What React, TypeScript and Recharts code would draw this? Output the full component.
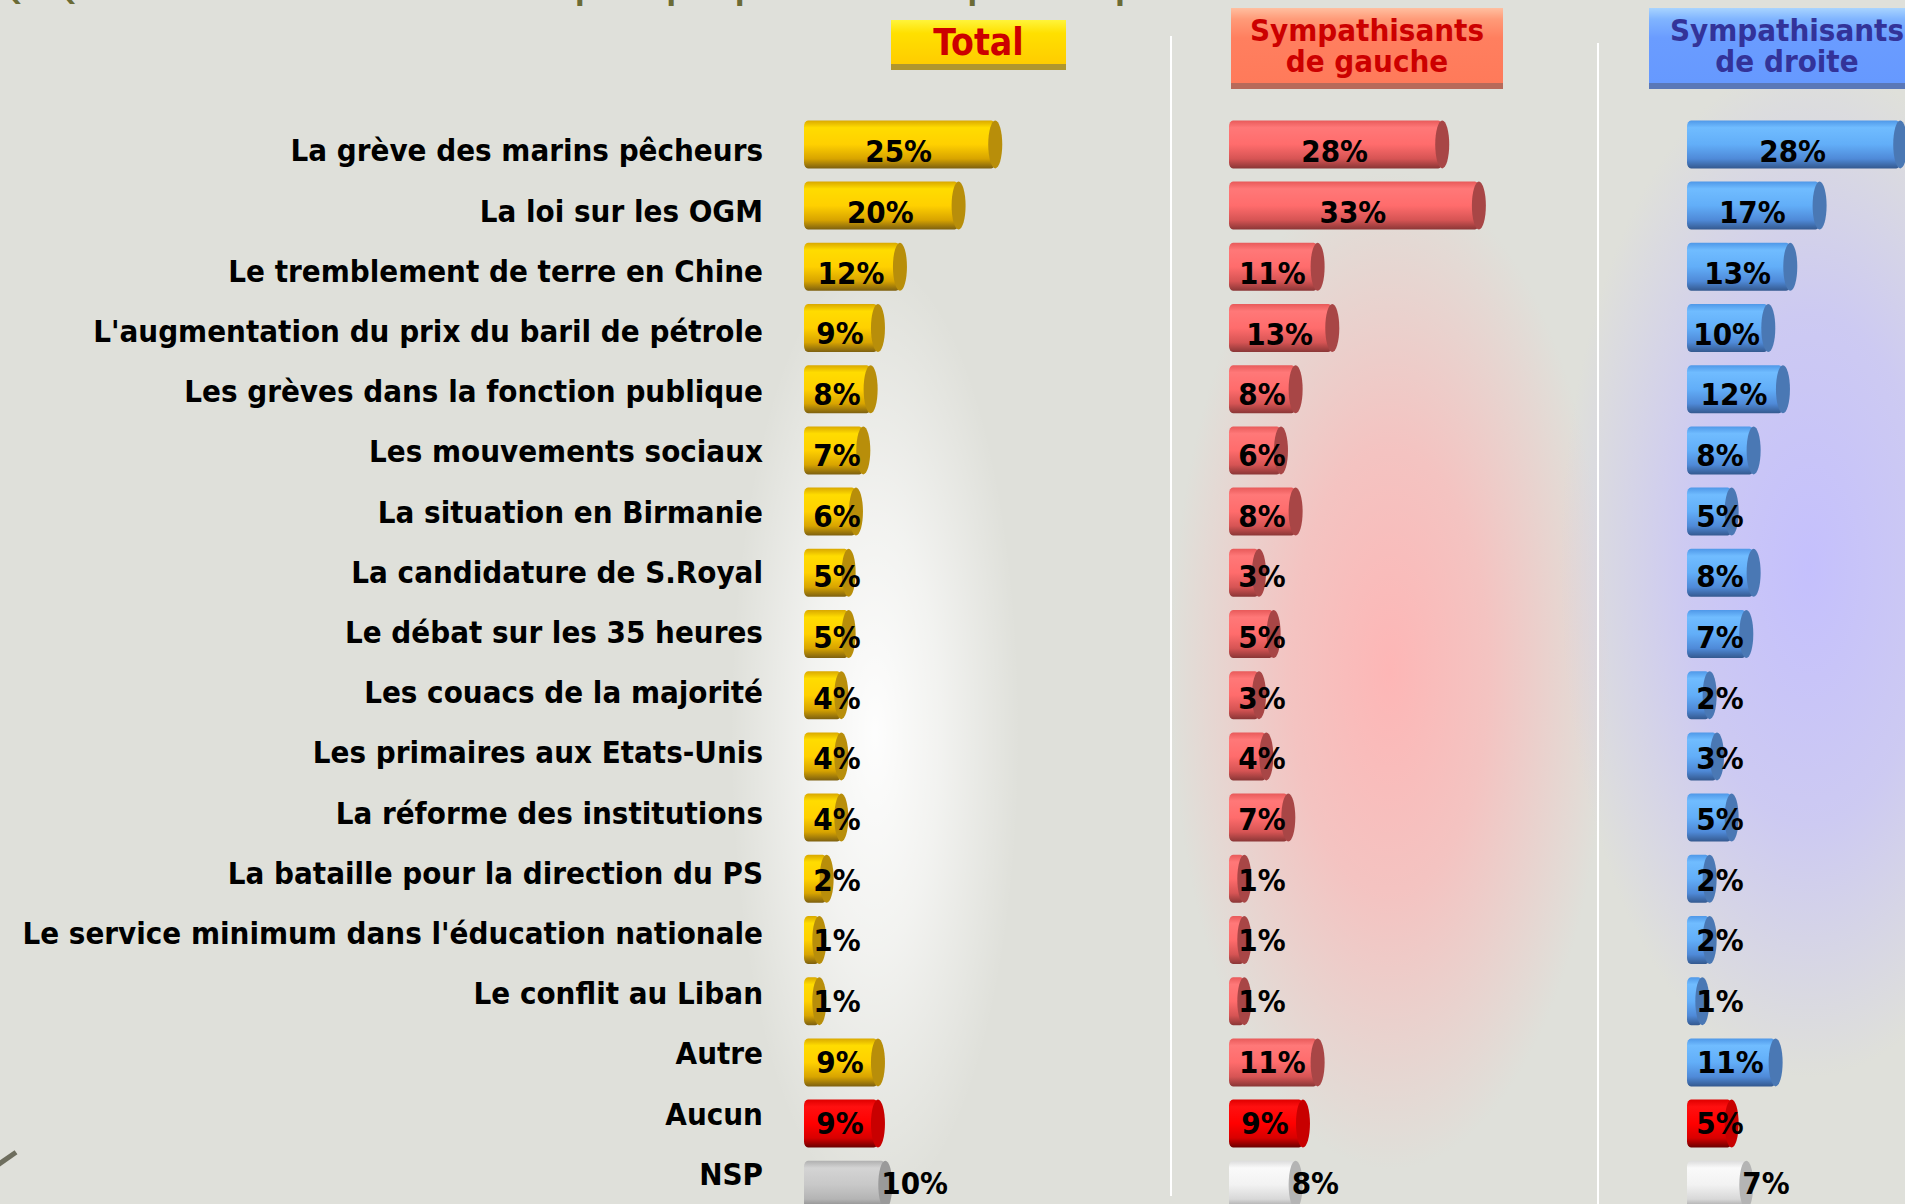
import React from 'react';
import { BarChart, Bar, XAxis, YAxis, LabelList } from 'recharts';

const categories = [
  'La grève des marins pêcheurs',
  'La loi sur les OGM',
  'Le tremblement de terre en Chine',
  "L'augmentation du prix du baril de pétrole",
  'Les grèves dans la fonction publique',
  'Les mouvements sociaux',
  'La situation en Birmanie',
  'La candidature de S.Royal',
  'Le débat sur les 35 heures',
  'Les couacs de la majorité',
  'Les primaires aux Etats-Unis',
  'La réforme des institutions',
  'La bataille pour la direction du PS',
  "Le service minimum dans l'éducation nationale",
  'Le conflit au Liban',
  'Autre',
  'Aucun',
  'NSP',
];

const totalValues = [25, 20, 12, 9, 8, 7, 6, 5, 5, 4, 4, 4, 2, 1, 1, 9, 9, 10];
const gaucheValues = [28, 33, 11, 13, 8, 6, 8, 3, 5, 3, 4, 7, 1, 1, 1, 11, 9, 8];
const droiteValues = [28, 17, 13, 10, 12, 8, 5, 8, 7, 2, 3, 5, 2, 2, 1, 11, 5, 7];

const columnTitles = ['Total', 'Sympathisants\nde gauche', 'Sympathisants\nde droite'];
const questionText =
  'Q : Quels sont les événements de la politique qui vous ont le plus marqué cette semaine ?';

const data = categories.map((label, i) => ({
  label,
  total: totalValues[i],
  gauche: gaucheValues[i],
  droite: droiteValues[i],
}));

const FONT = "'DejaVu Sans Condensed', 'DejaVu Sans', sans-serif";

type Palette = { top: string; light: string; main: string; low: string; bottom: string; cap: string };

const palettes: Record<string, Palette> = {
  yellow: { top: '#d9a800', light: '#ffdc00', main: '#ffd000', low: '#d8a400', bottom: '#7d6010', cap: '#b88e0a' },
  pink: { top: '#e85a5a', light: '#ff7878', main: '#ff6c6c', low: '#d65454', bottom: '#8a3636', cap: '#a84646' },
  blue: { top: '#4f98e8', light: '#70bcff', main: '#62aef8', low: '#4f8ad8', bottom: '#34598f', cap: '#4a78b4' },
  red: { top: '#e00000', light: '#ff1010', main: '#ff0000', low: '#d80000', bottom: '#6a0000', cap: '#c80000' },
  gray: { top: '#b0b0b0', light: '#d4d4d4', main: '#c8c8c8', low: '#b4b4b4', bottom: '#808080', cap: '#9a9a9a' },
  white: { top: '#dcdcdc', light: '#fafafa', main: '#f2f2f2', low: '#d8d8d8', bottom: '#9a9a9a', cap: '#b4b4b4' },
};

function Gradients({ names }: { names: string[] }) {
  return (
    <defs>
      {names.map((n) => {
        const p = palettes[n];
        return (
          <linearGradient key={n} id={`cyl-${n}`} x1="0" y1="0" x2="0" y2="1">
            <stop offset="0%" stopColor={p.top} />
            <stop offset="15%" stopColor={p.light} />
            <stop offset="50%" stopColor={p.main} />
            <stop offset="80%" stopColor={p.low} />
            <stop offset="100%" stopColor={p.bottom} />
          </linearGradient>
        );
      })}
    </defs>
  );
}

function makeCylinder(base: string, nsp: string) {
  return function Cylinder(props: any) {
    const { x, y, width, height, index } = props;
    const name = index === categories.length - 1 ? nsp : index === categories.length - 2 ? 'red' : base;
    const p = palettes[name];
    const len = Math.max(width, 0) + 8;
    return (
      <g>
        <rect x={x} y={y} width={len} height={height} rx={4} ry={6} fill={`url(#cyl-${name})`} />
        <ellipse cx={x + len} cy={y + height / 2} rx={7} ry={height / 2} fill={p.cap} />
      </g>
    );
  };
}

function ValueLabel(props: any) {
  const { x, y, width, height, value, index } = props;
  const isNsp = index === categories.length - 1;
  // labels sit a little higher on the lower rows, as in the original
  const baseY = y + height / 2 + 18 - index * 0.5;
  if (isNsp) {
    return (
      <text x={x + width + 4} y={baseY} textAnchor="start" fontFamily={FONT} fontWeight="bold" fontSize={31} fill="#000">
        {value}%
      </text>
    );
  }
  const cx = x + Math.max(width / 2, 30) + 3;
  return (
    <text x={cx} y={baseY} textAnchor="middle" fontFamily={FONT} fontWeight="bold" fontSize={31} fill="#000">
      {value}%
    </text>
  );
}

function CategoryTick(props: any) {
  const { x, y, payload } = props;
  return (
    <text x={x} y={y} dy={11} textAnchor="end" fontFamily={FONT} fontWeight="bold" fontSize={31} fill="#000">
      {payload.value}
    </text>
  );
}

const BAND = 61.2;
const PLOT_TOP = 113.4;
const CHART_H = PLOT_TOP + BAND * categories.length;
const PLOT_W = 293.2; // 40 % on the axis
const DOMAIN: [number, number] = [0, 40];

function ColumnChart({
  dataKey,
  base,
  nsp,
  left,
  axisWidth,
}: {
  dataKey: string;
  base: string;
  nsp: string;
  left: number;
  axisWidth: number;
}) {
  const marginLeft = axisWidth > 0 ? 0 : 100;
  const width = (axisWidth > 0 ? axisWidth : marginLeft) + PLOT_W + 80;
  return (
    <div style={{ position: 'absolute', left, top: 0 }}>
      <BarChart
        layout="vertical"
        width={width}
        height={CHART_H}
        data={data}
        margin={{ top: PLOT_TOP, right: 80, bottom: 0, left: marginLeft }}
        barCategoryGap={0}
      >
        <Gradients names={[base, 'red', nsp]} />
        <XAxis type="number" domain={DOMAIN} hide allowDataOverflow />
        <YAxis yAxisId="bars" type="category" dataKey="label" hide width={0} />
        {axisWidth > 0 && (
          <YAxis
            yAxisId="labels"
            type="category"
            dataKey="label"
            width={axisWidth}
            axisLine={false}
            tickLine={false}
            tickSize={6}
            tickMargin={35}
            tick={<CategoryTick />}
            interval={0}
            padding={{ top: 7, bottom: 11 }}
          />
        )}
        <Bar
          yAxisId="bars"
          dataKey={dataKey}
          barSize={48}
          shape={makeCylinder(base, nsp)}
          isAnimationActive={false}
        >
          <LabelList dataKey={dataKey} content={<ValueLabel />} />
        </Bar>
      </BarChart>
    </div>
  );
}

function Header({
  text,
  left,
  top,
  width,
  height,
  bg,
  shade,
  color,
  size,
}: {
  text: string;
  left: number;
  top: number;
  width: number;
  height: number;
  bg: string;
  shade: string;
  color: string;
  size: number;
}) {
  return (
    <div
      style={{
        position: 'absolute',
        left,
        top,
        width,
        height,
        background: bg,
        borderBottom: `6px solid ${shade}`,
        boxSizing: 'border-box',
        color,
        fontFamily: FONT,
        fontWeight: 'bold',
        fontSize: size,
        lineHeight: '31px',
        whiteSpace: 'pre-line',
        textAlign: 'center',
        display: 'flex',
        alignItems: 'center',
        justifyContent: 'center',
      }}
    >
      {text}
    </div>
  );
}

export default function App() {
  return (
    <div
      style={{
        position: 'absolute',
        left: 0,
        top: 0,
        width: 1905,
        height: 1204,
        overflow: 'hidden',
        background: '#dfe0da',
      }}
    >
      <div
        style={{
          position: 'absolute',
          left: 0,
          top: -28,
          whiteSpace: 'nowrap',
          fontFamily: FONT,
          fontWeight: 'bold',
          fontSize: 31,
          lineHeight: '35px',
          color: '#6b6b35',
        }}
      >
        {questionText}
      </div>
      {/* glows behind each column */}
      <div
        style={{
          position: 'absolute',
          left: 730,
          top: 150,
          width: 290,
          height: 1060,
          background:
            'radial-gradient(closest-side at 50% 55%, rgba(255,255,255,0.95), rgba(255,255,255,0.6) 45%, rgba(255,255,255,0))',
        }}
      />
      <div
        style={{
          position: 'absolute',
          left: 1170,
          top: 130,
          width: 440,
          height: 1040,
          background:
            'radial-gradient(closest-side at 50% 52%, rgba(255,180,180,0.95), rgba(255,180,180,0.65) 45%, rgba(255,180,180,0))',
        }}
      />
      <div
        style={{
          position: 'absolute',
          left: 1560,
          top: 60,
          width: 520,
          height: 1060,
          background:
            'radial-gradient(closest-side at 48% 48%, rgba(195,190,255,0.95), rgba(195,190,255,0.65) 50%, rgba(195,190,255,0))',
        }}
      />
      {/* separators */}
      <div style={{ position: 'absolute', left: 1170, top: 36, width: 2, height: 1160, background: '#ffffff' }} />
      <div style={{ position: 'absolute', left: 1597, top: 43, width: 2, height: 1161, background: '#ffffff' }} />
      {/* arrow fragment at the left edge */}
      <div
        style={{
          position: 'absolute',
          left: -4,
          top: 1156,
          width: 22,
          height: 5,
          background: '#6e6e5e',
          transform: 'rotate(-35deg)',
        }}
      />

      <Header
        text={columnTitles[0]}
        left={891}
        top={20}
        width={175}
        height={50}
        bg="linear-gradient(#fff43a 0%, #ffe000 30%, #ffcc00 100%)"
        shade="#b0962e"
        color="#cc0000"
        size={37}
      />
      <Header
        text={columnTitles[1]}
        left={1231}
        top={8}
        width={272}
        height={81}
        bg="linear-gradient(#ffbfa0 0%, #ff9a78 15%, #ff7f5f 40%, #ff7a5a 100%)"
        shade="#b86a5a"
        color="#cc0000"
        size={31}
      />
      <Header
        text={columnTitles[2]}
        left={1649}
        top={8}
        width={276}
        height={81}
        bg="linear-gradient(#a8d4ff 0%, #80b4ff 15%, #6a9cff 40%, #6699ff 100%)"
        shade="#5a78b8"
        color="#333399"
        size={31}
      />

      <ColumnChart dataKey="total" base="yellow" nsp="gray" left={0} axisWidth={804} />
      <ColumnChart dataKey="gauche" base="pink" nsp="white" left={1129} axisWidth={0} />
      <ColumnChart dataKey="droite" base="blue" nsp="white" left={1587} axisWidth={0} />
    </div>
  );
}
